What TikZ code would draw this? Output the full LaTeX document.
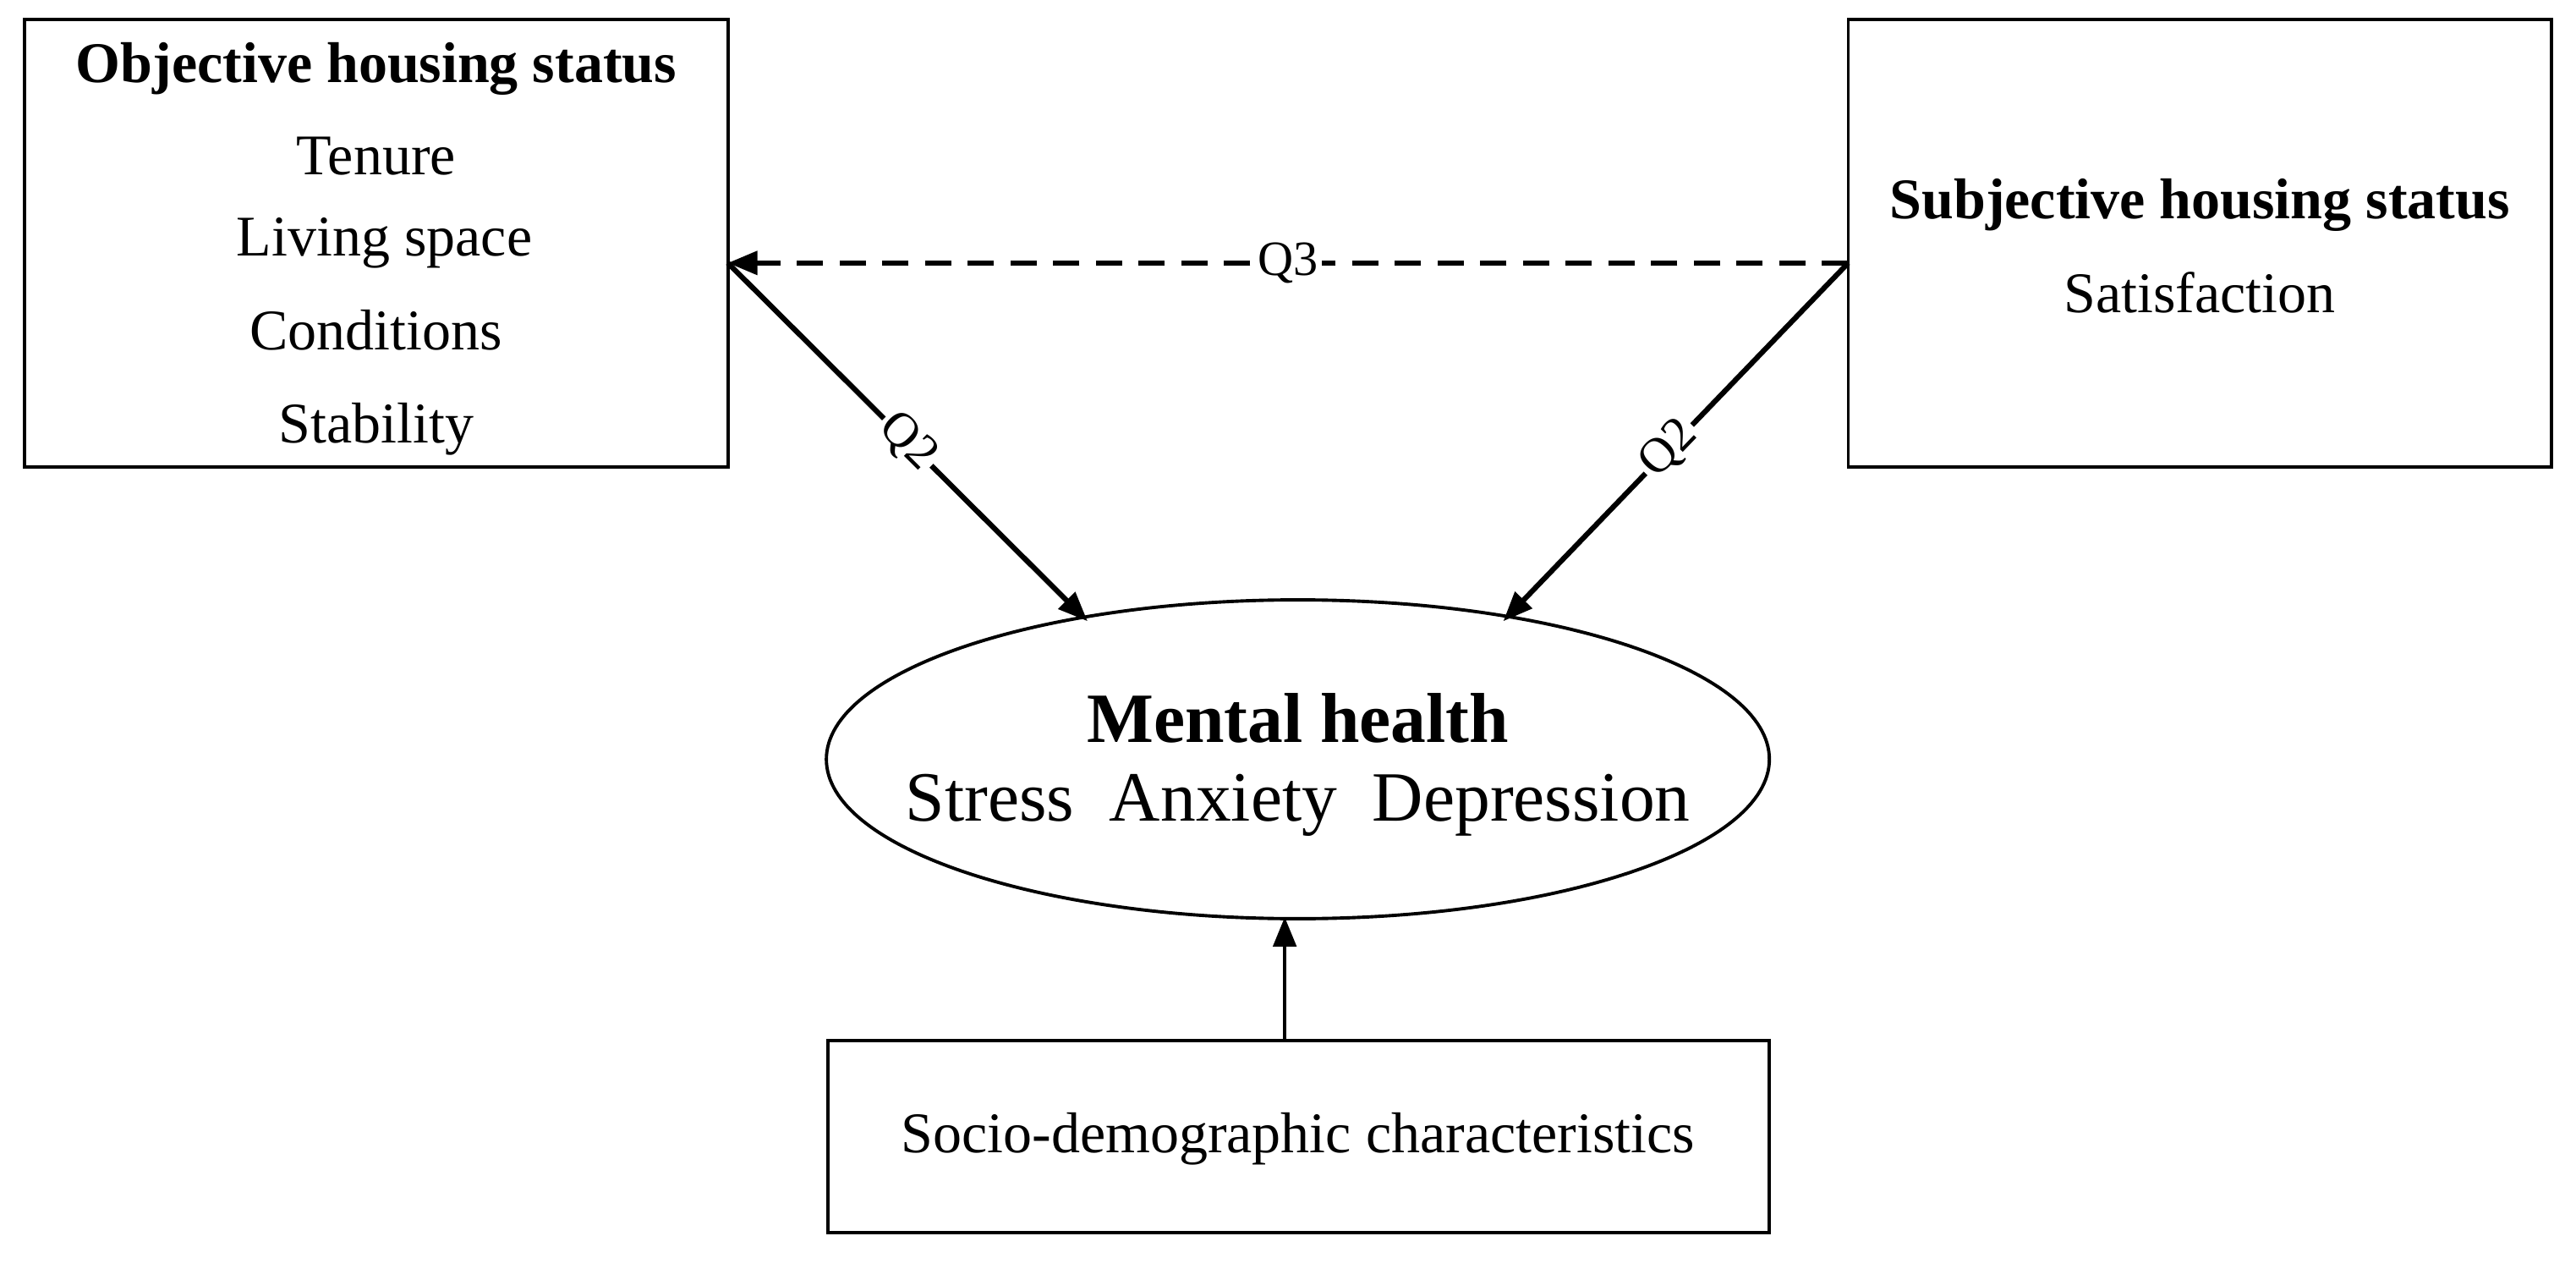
\documentclass[tikz,border=0pt]{standalone}
\usepackage{fontspec}
\setmainfont{Liberation Serif}
\usetikzlibrary{arrows.meta,shapes.geometric}
\begin{document}
\begin{tikzpicture}[x=0.5pt,y=-0.5pt,
  box/.style={draw,line width=1pt,inner sep=0pt},
  txt/.style={font=\fontsize{17.5}{20}\selectfont,inner sep=0pt},
  ttl/.style={font=\fontsize{17.5}{20}\selectfont\bfseries,inner sep=0pt},
  arr/.style={line width=1.6pt,-{Triangle[length=9pt,width=7pt]}},
  lbl/.style={font=\fontsize{15}{17}\selectfont,fill=white,inner sep=1pt}]
\useasboundingbox (0,0) rectangle (1568,772);
\node[box,minimum width=214pt,minimum height=136pt] (L) at (229,148) {};
\node[box,minimum width=214pt,minimum height=136pt] (R) at (1339,148) {};
\node[draw,line width=1pt,ellipse,minimum width=287pt,minimum height=97pt,inner sep=0pt] (M) at (790,462) {};
\node[box,minimum width=286.5pt,minimum height=58.5pt] (B) at (790.5,691.5) {};
\node[ttl] (l0) at (229,42) {Objective housing status};
\node[txt] (l1) at (229,95) {Tenure};
\node[txt] (l2) at (234,148) {Living space};
\node[txt] (l3) at (229,201) {Conditions};
\node[txt] (l4) at (229,261) {Stability};
\node[ttl] (r0) at (1339,125) {Subjective housing status};
\node[txt] (r1) at (1339,178) {Satisfaction};
\node[font=\fontsize{21.5}{24}\selectfont\bfseries,inner sep=0pt] (m0) at (790,437) {Mental health};
\node[font=\fontsize{21.5}{24}\selectfont,inner sep=0pt] (m1) at (790,490) {Stress\ \ Anxiety\ \ Depression};
\node[txt] (b0) at (790,693) {Socio-demographic characteristics};
\coordinate (Le) at (443,160);
\coordinate (Re) at (1125,160);
\coordinate (Mt1) at (662,378);
\coordinate (Mt2) at (915,378);
\coordinate (Bt) at (782,633);
\coordinate (Mb) at (782,558);
\draw[arr,dashed,dash pattern=on 8pt off 5pt] (Re) -- node[lbl] {Q3} (Le);
\draw[arr] (Le) -- node[lbl,sloped,pos=0.5] {Q2} (Mt1);
\draw[arr] (Re) -- node[lbl,sloped,pos=0.52] {Q2} (Mt2);
\draw[line width=1.2pt,-{Triangle[length=9pt,width=7pt]}] (Bt) -- (Mb);
\end{tikzpicture}
\end{document}
